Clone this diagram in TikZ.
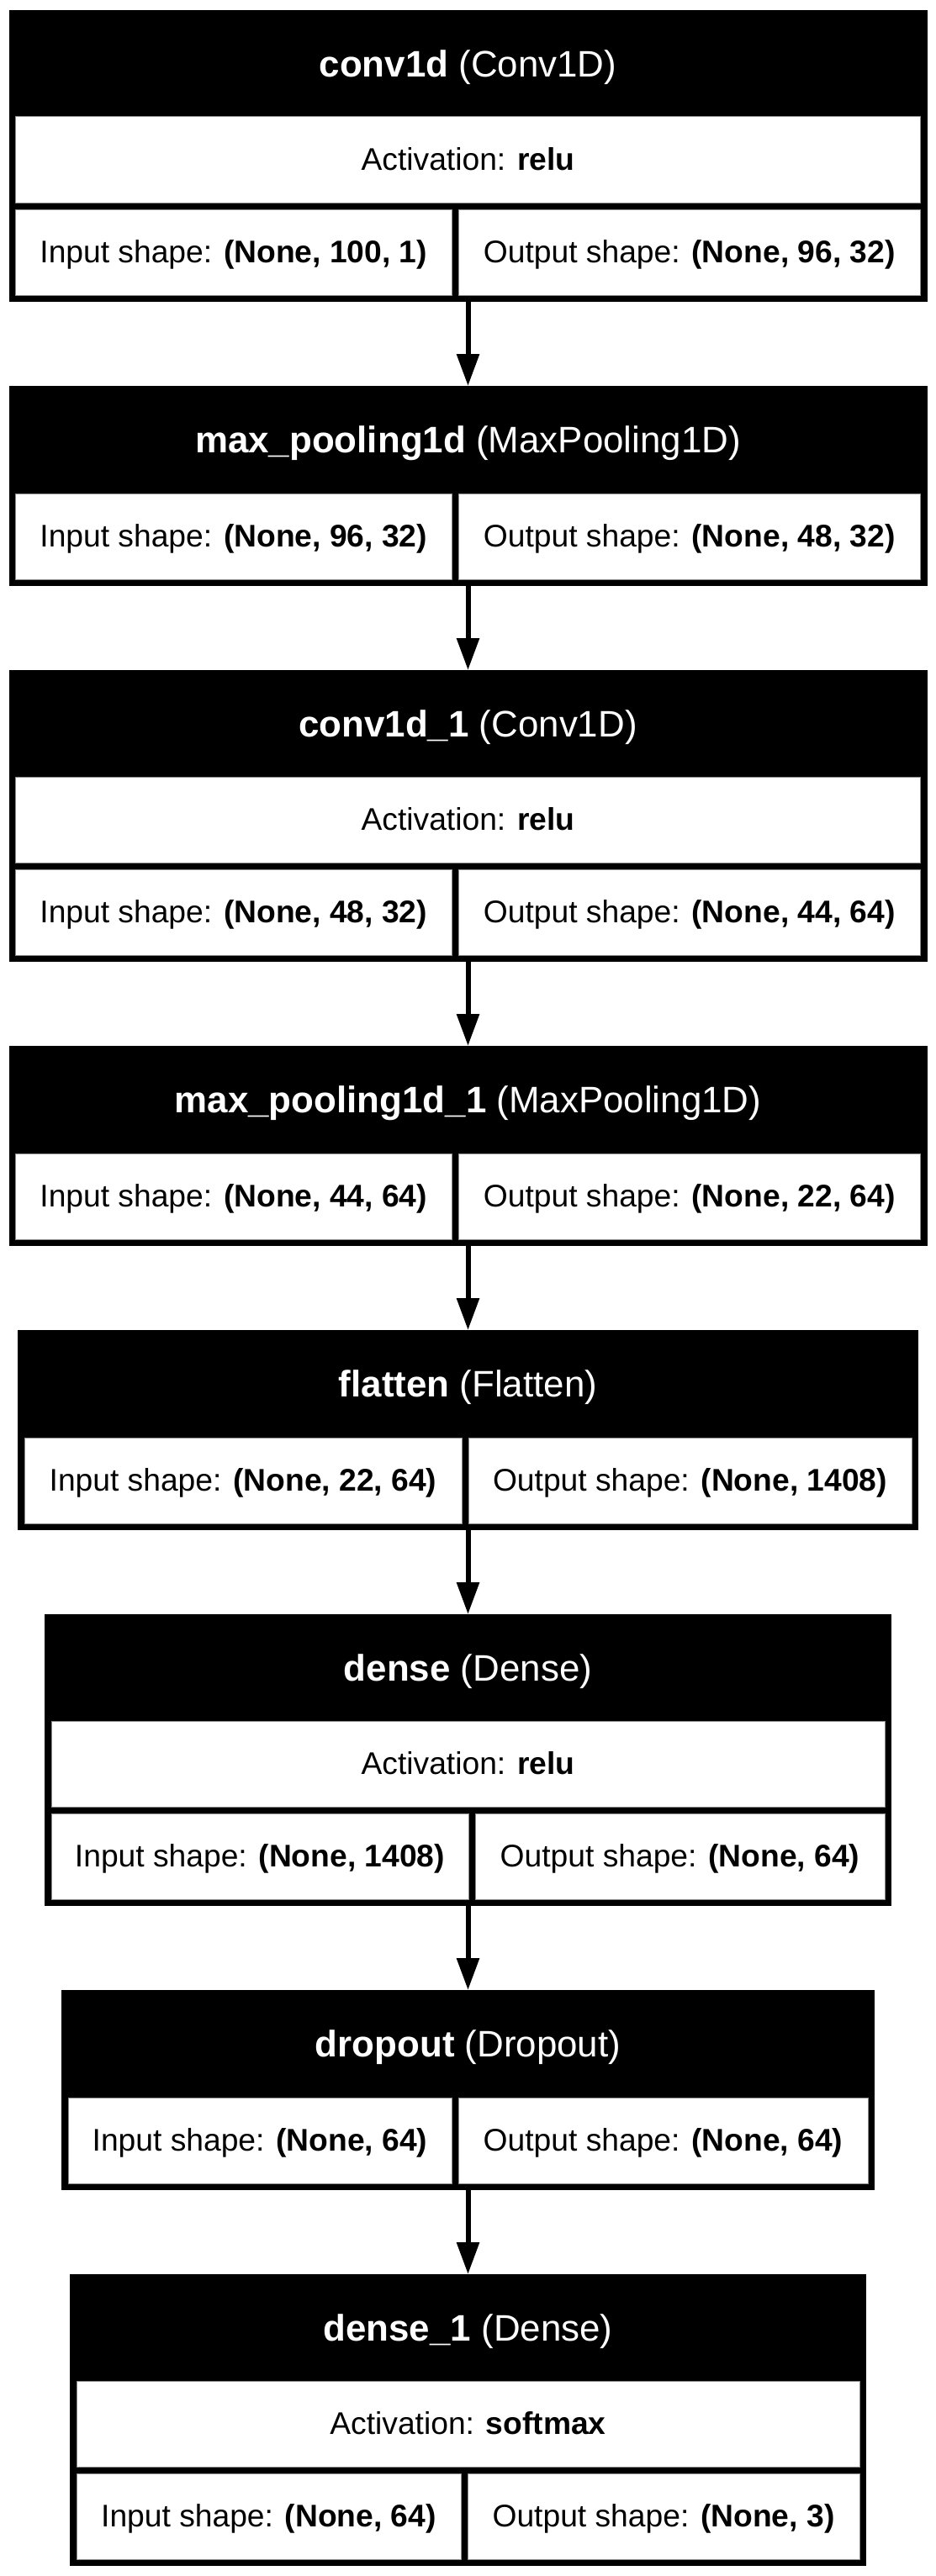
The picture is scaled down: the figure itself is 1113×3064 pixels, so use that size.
\documentclass[tikz,border=0pt]{standalone}
\usepackage{fontspec}
\setmainfont{Liberation Sans}
\usetikzlibrary{arrows.meta}
\tikzset{
  outerbox/.style={rectangle, fill=black, draw=none, inner sep=0pt, outer sep=0pt},
  cellw/.style={fill=white, draw=black!45, line width=0.36pt},
  ttl/.style={text=white, font=\fontsize{15.8pt}{18pt}\selectfont, inner sep=0pt, text height=11.3pt, text depth=0pt},
  rowtxt/.style={text=black, font=\fontsize{13.4pt}{16pt}\selectfont, inner sep=0pt, text height=9.6pt, text depth=0pt},
  flow/.style={line width=2.16pt, -{Triangle[length=13.68pt, width=9.36pt]}}
}
% #1 name, #2 top, #3 half width, #4 divider left, #5 layer name, #6 class, #7 activation, #8 input, #9 output
\newcommand\LayerThree[9]{%
  \node[outerbox, minimum width={2*#3*0.36pt}, minimum height={347*0.36pt}] (#1) at (556.5,#2+173.5) {};
  \draw[cellw] (556.5-#3+8,#2+127) rectangle (556.5+#3-8,#2+229);
  \draw[cellw] (556.5-#3+8,#2+237) rectangle (#4,#2+339);
  \draw[cellw] (#4+8,#2+237) rectangle (556.5+#3-8,#2+339);
  \node[ttl] (#1t) at (556.5,#2+64) {\textbf{#5} (#6)};
  \node[rowtxt] (#1a) at (556.5,#2+177) {Activation: \textbf{#7}};
  \node[rowtxt] (#1i) at ({(556.5-#3+8+#4)/2},#2+287) {Input shape: \textbf{#8}};
  \node[rowtxt] (#1o) at ({(#4+556.5+#3)/2},#2+287) {Output shape: \textbf{#9}};
}
% #1 name, #2 top, #3 half width, #4 divider left, #5 layer name, #6 class, #7 input, #8 output
\newcommand\LayerTwo[8]{%
  \node[outerbox, minimum width={2*#3*0.36pt}, minimum height={238*0.36pt}] (#1) at (556.5,#2+119) {};
  \draw[cellw] (556.5-#3+8,#2+128) rectangle (#4,#2+230);
  \draw[cellw] (#4+8,#2+128) rectangle (556.5+#3-8,#2+230);
  \node[ttl] (#1t) at (556.5,#2+64) {\textbf{#5} (#6)};
  \node[rowtxt] (#1i) at ({(556.5-#3+8+#4)/2},#2+178) {Input shape: \textbf{#7}};
  \node[rowtxt] (#1o) at ({(#4+556.5+#3)/2},#2+178) {Output shape: \textbf{#8}};
}
\begin{document}
\begin{tikzpicture}[x=0.36pt, y=-0.36pt]
  \fill[white] (0,0) rectangle (1113,3064);
  \useasboundingbox (0,0) rectangle (1113,3064);
  \LayerThree{b1}{12}{546}{537}{conv1d}{Conv1D}{relu}{(None, 100, 1)}{(None, 96, 32)}
  \LayerTwo{b2}{459}{546}{537}{max\_pooling1d}{MaxPooling1D}{(None, 96, 32)}{(None, 48, 32)}
  \LayerThree{b3}{797}{546}{537}{conv1d\_1}{Conv1D}{relu}{(None, 48, 32)}{(None, 44, 64)}
  \LayerTwo{b4}{1244}{546}{537}{max\_pooling1d\_1}{MaxPooling1D}{(None, 44, 64)}{(None, 22, 64)}
  \LayerTwo{b5}{1582}{535.5}{549}{flatten}{Flatten}{(None, 22, 64)}{(None, 1408)}
  \LayerThree{b6}{1920}{503.5}{557}{dense}{Dense}{relu}{(None, 1408)}{(None, 64)}
  \LayerTwo{b7}{2367}{483.5}{537}{dropout}{Dropout}{(None, 64)}{(None, 64)}
  \LayerThree{b8}{2705}{473.5}{548}{dense\_1}{Dense}{softmax}{(None, 64)}{(None, 3)}
  \draw[flow] (b1.south) -- (b2.north);
  \draw[flow] (b2.south) -- (b3.north);
  \draw[flow] (b3.south) -- (b4.north);
  \draw[flow] (b4.south) -- (b5.north);
  \draw[flow] (b5.south) -- (b6.north);
  \draw[flow] (b6.south) -- (b7.north);
  \draw[flow] (b7.south) -- (b8.north);
\end{tikzpicture}
\end{document}
